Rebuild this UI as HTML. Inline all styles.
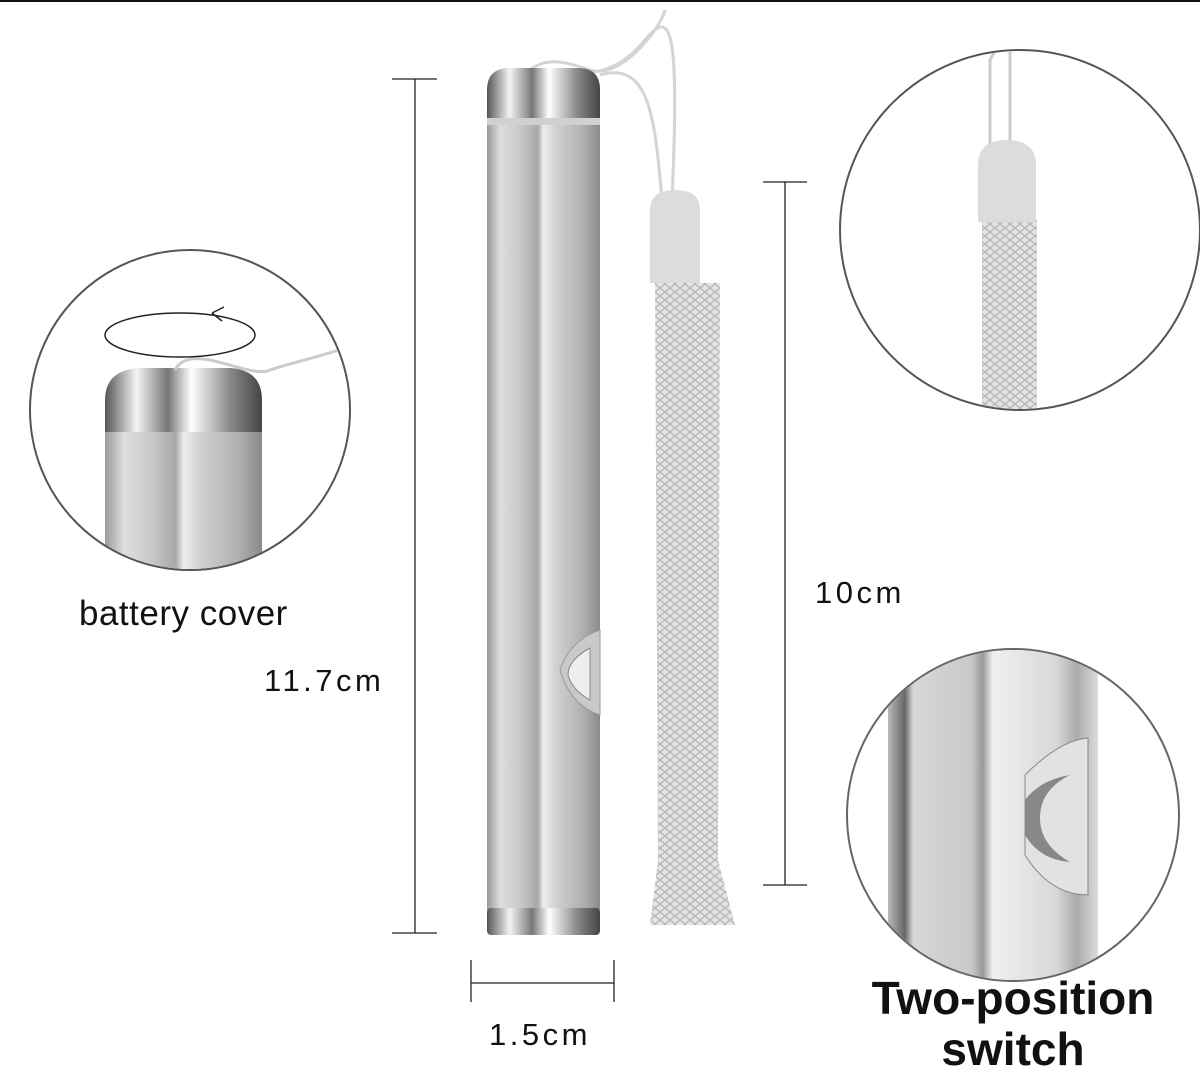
<!DOCTYPE html>
<html><head><meta charset="utf-8"><style>
html,body{margin:0;padding:0;background:#fff}
svg{display:block}
text{font-family:"Liberation Sans","DejaVu Sans",sans-serif;fill:#111}
</style></head><body>
<svg width="1200" height="1087" viewBox="0 0 1200 1087" xmlns="http://www.w3.org/2000/svg">
<defs>
<linearGradient id="body" x1="0" x2="1" y1="0" y2="0">
<stop offset="0" stop-color="#9a9a9a"/><stop offset="0.12" stop-color="#dedede"/><stop offset="0.3" stop-color="#c8c8c8"/><stop offset="0.45" stop-color="#a8a8a8"/><stop offset="0.5" stop-color="#eeeeee"/><stop offset="0.6" stop-color="#d2d2d2"/><stop offset="0.85" stop-color="#b0b0b0"/><stop offset="1" stop-color="#8a8a8a"/>
</linearGradient>
<linearGradient id="body2" x1="0" x2="1" y1="0" y2="0">
<stop offset="0" stop-color="#bbb"/><stop offset="0.08" stop-color="#666"/><stop offset="0.12" stop-color="#d8d8d8"/><stop offset="0.4" stop-color="#c8c8c8"/><stop offset="0.45" stop-color="#999"/><stop offset="0.5" stop-color="#f0f0f0"/><stop offset="0.8" stop-color="#d8d8d8"/><stop offset="0.9" stop-color="#aaa"/><stop offset="1" stop-color="#ddd"/>
</linearGradient>
<linearGradient id="cap" x1="0" x2="1">
<stop offset="0" stop-color="#555"/><stop offset="0.2" stop-color="#f4f4f4"/><stop offset="0.4" stop-color="#777"/><stop offset="0.55" stop-color="#fff"/><stop offset="0.8" stop-color="#888"/><stop offset="1" stop-color="#444"/>
</linearGradient>
<pattern id="braid" width="10" height="8" patternUnits="userSpaceOnUse">
<rect width="10" height="8" fill="#e4e4e4"/><path d="M0 0 L5 4 L10 0 M0 8 L5 4 L10 8" stroke="#b8b8b8" stroke-width="1.4" fill="none"/>
</pattern>
</defs>
<rect x="0" y="0" width="1200" height="2" fill="#111"/>

<g stroke="#222" stroke-width="1.3">
<line x1="415" y1="79" x2="415" y2="933"/><line x1="392" y1="79" x2="437" y2="79"/><line x1="392" y1="933" x2="437" y2="933"/>
<line x1="785" y1="182" x2="785" y2="885"/><line x1="763" y1="182" x2="807" y2="182"/><line x1="763" y1="885" x2="807" y2="885"/>
<line x1="471" y1="983" x2="614" y2="983"/><line x1="471" y1="960" x2="471" y2="1002"/><line x1="614" y1="960" x2="614" y2="1002"/>
</g>

<path d="M520 80 C540 55 560 60 590 70 C620 80 660 30 665 10 M530 78 C560 60 600 95 645 40 C670 10 680 20 672 200 M662 200 C655 120 650 60 600 75" stroke="#d4d4d4" stroke-width="3" fill="none"/>

<path d="M487 125 L487 90 Q487 68 510 68 L578 68 Q600 68 600 90 L600 125 Z" fill="url(#cap)"/>
<rect x="487" y="118" width="113" height="8" fill="#d0d0d0"/>
<rect x="487" y="125" width="113" height="785" fill="url(#body)"/>
<rect x="487" y="908" width="113" height="27" rx="4" fill="url(#cap)"/>
<path d="M600 630 Q570 640 560 670 Q570 705 600 715 Z" fill="#c9c9c9" stroke="#999"/>
<path d="M590 648 Q568 660 568 675 Q572 690 590 700 Z" fill="#eee" stroke="#888"/>

<path d="M655 283 L720 283 L718 860 L735 925 L650 925 L658 860 Z" fill="url(#braid)"/>
<path d="M650 283 L650 210 Q650 190 675 190 Q700 190 700 210 L700 283 Z" fill="#dcdcdc"/>

<circle cx="190" cy="410" r="160" fill="#fff" stroke="#555" stroke-width="2"/>
<clipPath id="c1"><circle cx="190" cy="410" r="159"/></clipPath>
<g clip-path="url(#c1)">
<path d="M105 580 L105 400 Q105 370 140 368 L230 368 Q262 370 262 400 L262 580 Z" fill="url(#cap)"/>
<rect x="105" y="432" width="157" height="160" fill="url(#body)"/>
<path d="M175 370 C190 340 250 380 270 370 C300 360 350 350 360 340" stroke="#ccc" stroke-width="3" fill="none"/>
</g>
<ellipse cx="180" cy="335" rx="75" ry="22" fill="none" stroke="#222" stroke-width="1.5"/>
<path d="M212 313 l12 -6 M212 313 l10 8" stroke="#222" stroke-width="1.5" fill="none"/>

<circle cx="1020" cy="230" r="180" fill="#fff" stroke="#555" stroke-width="2"/>
<clipPath id="c2"><circle cx="1020" cy="230" r="179"/></clipPath>
<g clip-path="url(#c2)">
<path d="M990 160 L990 60 Q1000 40 1000 50 M1010 160 L1010 50" stroke="#ccc" stroke-width="3" fill="none"/>
<rect x="982" y="220" width="55" height="200" fill="url(#braid)"/>
<path d="M978 222 L978 165 Q978 140 1007 140 Q1036 140 1036 165 L1036 222 Z" fill="#dcdcdc"/>
</g>

<circle cx="1013" cy="815" r="166" fill="#fff" stroke="#666" stroke-width="2"/>
<clipPath id="c3"><circle cx="1013" cy="815" r="165"/></clipPath>
<g clip-path="url(#c3)">
<rect x="888" y="645" width="210" height="338" fill="url(#body2)"/>
<path d="M1088 738 Q1060 740 1025 775 L1025 855 Q1050 895 1088 895 Z" fill="#e2e2e2" stroke="#888"/>
<path d="M1070 775 Q1040 780 1025 800 L1025 835 Q1040 860 1070 862 Q1040 845 1040 818 Q1040 790 1070 775 Z" fill="#888"/>
</g>

<text x="79" y="625" font-size="35" letter-spacing="0.5">battery cover</text>
<text x="264" y="691" font-size="31" letter-spacing="3.5">11.7cm</text>
<text x="815" y="603" font-size="31" letter-spacing="3.5">10cm</text>
<text x="489" y="1045" font-size="31" letter-spacing="3.5">1.5cm</text>
<text x="1013" y="1014" font-size="46" font-weight="bold" text-anchor="middle">Two-position</text>
<text x="1013" y="1065" font-size="46" font-weight="bold" text-anchor="middle">switch</text>
</svg>
</body></html>
